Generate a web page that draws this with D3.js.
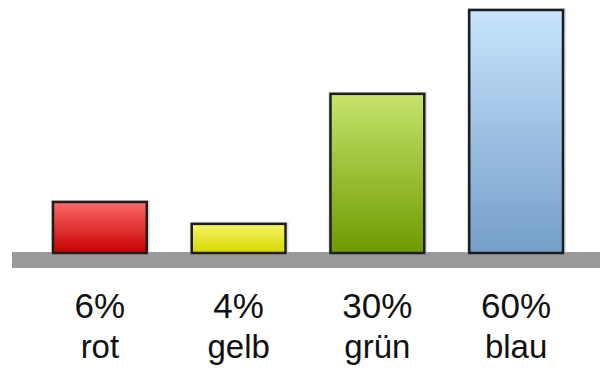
<!DOCTYPE html>
<html>
<head>
<meta charset="utf-8">
<script src="https://cdn.jsdelivr.net/npm/d3@7"></script>
<style>
  html, body { margin: 0; padding: 0; background: #fff; }
  svg { display: block; }
</style>
</head>
<body>
<svg id="chart" width="600" height="368"></svg>
<script>
// colour names and shares, as printed under the bars
var categories = ['rot', 'gelb', 'grün', 'blau'];
var shares = ['6%', '4%', '30%', '60%'];
// bar lengths as drawn (the picture is not to scale), in % of the tallest
var barLength = [21, 12, 65.5, 100];
// top / bottom gradient colour per bar
var topColors = ['#ff6a6a', '#f6f66a', '#c6e46c', '#c8e4fd'];
var bottomColors = ['#c40000', '#d6d600', '#6f9a00', '#749ec9'];

var svg = d3.select('#chart');
var baseY = 253;

var x = d3.scaleBand()
    .domain(categories)
    .range([53, 563])
    .paddingInner(0.324)
    .paddingOuter(0);

var y = d3.scaleLinear()
    .domain([0, 100])
    .range([baseY, 10]);

var defs = svg.append('defs');
categories.forEach(function (c, i) {
    var g = defs.append('linearGradient')
        .attr('id', 'grad' + i)
        .attr('x1', 0).attr('y1', 0).attr('x2', 0).attr('y2', 1);
    g.append('stop').attr('offset', '0%').attr('stop-color', topColors[i]);
    g.append('stop').attr('offset', '100%').attr('stop-color', bottomColors[i]);
});

// grey floor
svg.append('rect')
    .attr('x', 12)
    .attr('y', 252)
    .attr('width', 600 - 12)
    .attr('height', 16)
    .attr('fill', '#999999');

// soft shadow
svg.selectAll('rect.shadow')
    .data(categories)
    .enter().append('rect')
    .attr('class', 'shadow')
    .attr('x', d => x(d) - 1)
    .attr('y', (d, i) => y(barLength[i]) - 1)
    .attr('width', x.bandwidth() + 3)
    .attr('height', (d, i) => baseY - y(barLength[i]) + 1)
    .attr('fill', 'none')
    .attr('stroke', '#bbbbbb')
    .attr('stroke-opacity', 0.5)
    .attr('stroke-width', 2);

svg.selectAll('rect.bar')
    .data(categories)
    .enter().append('rect')
    .attr('class', 'bar')
    .attr('x', d => x(d))
    .attr('y', (d, i) => y(barLength[i]))
    .attr('width', x.bandwidth())
    .attr('height', (d, i) => baseY - y(barLength[i]))
    .attr('fill', (d, i) => 'url(#grad' + i + ')')
    .attr('stroke', '#1e1e1e')
    .attr('stroke-width', 2.5);

var labels = svg.append('g')
    .attr('font-family', 'Liberation Sans, Arial, sans-serif')
    .attr('fill', '#111')
    .attr('text-anchor', 'middle');

labels.selectAll('text.share')
    .data(categories)
    .enter().append('text')
    .attr('class', 'share')
    .attr('font-size', 35)
    .attr('x', d => x(d) + x.bandwidth() / 2)
    .attr('y', 318)
    .text((d, i) => shares[i]);

labels.selectAll('text.name')
    .data(categories)
    .enter().append('text')
    .attr('class', 'name')
    .attr('font-size', 33)
    .attr('x', d => x(d) + x.bandwidth() / 2)
    .attr('y', 358)
    .text(d => d);
</script>
</body>
</html>
